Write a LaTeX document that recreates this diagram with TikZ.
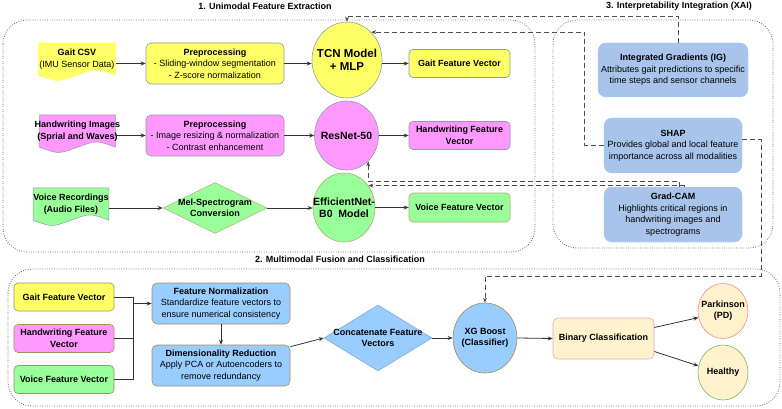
\documentclass[tikz,border=0pt]{standalone}
\usepackage{fontspec}
\setmainfont{Liberation Sans}
\usetikzlibrary{arrows.meta,calc,shapes.geometric,backgrounds}
\definecolor{PDInk}{HTML}{333333}
\definecolor{PDDash}{HTML}{4D4D4D}
\definecolor{PDDots}{HTML}{666666}
\definecolor{PDEdge}{HTML}{8E9AAF}
\definecolor{PDYellow}{HTML}{FFFF66}
\definecolor{PDPink}{HTML}{FF99FF}
\definecolor{PDGreen}{HTML}{99FF99}
\definecolor{PDFuse}{HTML}{99CCFF}
\definecolor{PDXai}{HTML}{A9C4EB}
\definecolor{PDOlive}{HTML}{A0905C}
\definecolor{PDCream}{HTML}{FFF2CC}
\definecolor{PDRose}{HTML}{D6B0B8}
\definecolor{PDRed}{HTML}{EA8F8F}
\definecolor{PDHealthy}{HTML}{82B366}
\newcommand{\ctrline}[1]{\makebox[0pt]{#1}}
\newcommand{\docwave}[3]{%
  \path[fill=#2,draw=#3,line width=0.5pt]
    (#1.north west) -- (#1.north east) -- (#1.south east)
    .. controls ($(#1.south east)!0.25!(#1.south west)+(0,-7)$) .. (#1.south)
    .. controls ($(#1.south west)!0.25!(#1.south east)+(0,7)$) .. (#1.south west)
    -- cycle;}

\begin{document}
\begin{tikzpicture}[x=1pt,y=-1pt,
    >={Stealth[length=5pt,width=4pt]},
    flow/.style={->,draw=PDInk,line width=0.8pt},
    xailink/.style={->,draw=PDDash,line width=0.8pt,dash pattern=on 5pt off 3pt},
    region/.style={draw=PDDots,line width=0.8pt,dash pattern=on 0.8pt off 1.6pt,rounded corners=24pt},
    sectitle/.style={font=\bfseries\fontsize{9}{11}\selectfont,inner sep=0pt},
    boxtext/.style={align=center,font=\fontsize{9}{11.5}\selectfont,inner sep=1pt},
    docnode/.style={boxtext,minimum width=75pt,minimum height=32pt},
    procbox/.style={boxtext,draw=PDEdge,line width=0.6pt,rounded corners=5pt,
      minimum width=138pt,minimum height=41pt},
    featbox/.style={boxtext,draw=PDEdge,line width=0.6pt,rounded corners=4pt,
      minimum width=101pt,minimum height=28pt,font=\bfseries\fontsize{9}{11.5}\selectfont},
    model/.style={ellipse,draw=PDEdge,line width=0.6pt,inner sep=0pt,align=center,
      font=\bfseries\fontsize{10.5}{12.5}\selectfont},
    xaibox/.style={boxtext,fill=PDXai,draw=PDXai,rounded corners=8pt,
      minimum width=138pt,minimum height=55pt},
    fusebox/.style={procbox,fill=PDFuse,draw=PDOlive},
    outcome/.style={ellipse,fill=PDCream,line width=0.6pt,inner sep=0pt,
      minimum width=50pt,minimum height=55pt,align=center,font=\bfseries\fontsize{9}{11}\selectfont},
    decision/.style={diamond,inner sep=0pt,line width=0.6pt,align=center,
      font=\bfseries\fontsize{9}{11.5}\selectfont}
  ]
  \useasboundingbox (0,0) rectangle (782,409);

  % stage frames
  \draw[region] (3,20) rectangle (535,252);
  \draw[region] (553,20) rectangle (773,248);
  \draw[region] (8,269) rectangle (780,406);
  \node[sectitle] (title1) at (265,6) {1. Unimodal Feature Extraction};
  \node[sectitle] (title3) at (679,6) {3. Interpretability Integration (XAI)};
  \node[sectitle] (title2) at (340,259) {2. Multimodal Fusion and Classification};

  % unimodal branches
  \node[docnode] (gaitcsv) at (77,59) {\textbf{Gait CSV}\\(IMU Sensor Data)};
  \node[procbox,fill=PDYellow] (gaitprep) at (215,63.5)
    {\textbf{Preprocessing}\\- Sliding-window segmentation\\- Z-score normalization};
  \node[model,fill=PDYellow,minimum width=70pt,minimum height=76pt,
    font=\bfseries\fontsize{11.5}{13.5}\selectfont] (tcn) at (347,60)
    {\ctrline{TCN Model}\\\ctrline{+ MLP}};
  \node[featbox,fill=PDYellow] (gaitvec) at (459.5,63.5) {Gait Feature Vector};

  \node[docnode,inner xsep=-5pt] (hwimg) at (77.5,131)
    {\textbf{Handwriting Images}\\\textbf{(Sprial and Waves)}};
  \node[procbox,fill=PDPink] (hwprep) at (215,135.5)
    {\textbf{Preprocessing}\\- Image resizing \& normalization\\- Contrast enhancement};
  \node[model,fill=PDPink,minimum width=64pt,minimum height=69pt] (resnet) at (346.5,135.5)
    {\ctrline{ResNet-50}};
  \node[featbox,fill=PDPink] (hwvec) at (459.5,135.5) {Handwriting Feature\\Vector};

  \node[docnode,inner xsep=0pt] (voicerec) at (71,204)
    {\textbf{Voice Recordings}\\\textbf{(Audio Files)}};
  \node[decision,fill=PDGreen,draw=PDOlive!70,minimum width=104pt,minimum height=51pt]
    (melspec) at (215,208) {\ctrline{Mel-Spectrogram}\\\ctrline{Conversion}};
  \node[model,fill=PDGreen,draw=PDOlive!80,minimum width=62pt,minimum height=69pt]
    (effnet) at (344,207.5) {\ctrline{EfficientNet-}\\\ctrline{B0\ \ Model}};
  \node[featbox,fill=PDGreen,draw=PDOlive!80,minimum height=29pt] (voicevec) at (459.5,207.5)
    {Voice Feature Vector};

  \begin{scope}[on background layer]
    \path[fill=white] (0,0) rectangle (782,409);
    \docwave{gaitcsv}{PDYellow}{PDYellow}
    \docwave{hwimg}{PDPink}{PDEdge}
    \docwave{voicerec}{PDGreen}{PDEdge}
  \end{scope}

  \draw[flow] (gaitcsv.east |- gaitprep.west) -- (gaitprep.west);
  \draw[flow] (gaitprep.east) -- (gaitprep.east -| tcn.west);
  \draw[flow] (tcn.east |- gaitvec.west) -- (gaitvec.west);
  \draw[flow] (hwimg.east |- hwprep.west) -- (hwprep.west);
  \draw[flow] (hwprep.east) -- (resnet.west);
  \draw[flow] (resnet.east) -- (hwvec.west);
  \draw[flow] (voicerec.east |- melspec.west) -- (melspec.west);
  \draw[flow] (melspec.east) -- (effnet.west |- melspec.east);
  \draw[flow] (effnet.east) -- (voicevec.west);

  % explainers
  \node[xaibox,minimum width=150pt,minimum height=54pt] (ig) at (673,70)
    {\textbf{Integrated Gradients (IG)}\\Attributes gait predictions to specific\\time steps and sensor channels};
  \node[xaibox] (shap) at (673,145.5)
    {\textbf{SHAP}\\Provides global and local feature\\importance across all modalities};
  \node[xaibox] (gradcam) at (673,214.5)
    {\textbf{Grad-CAM}\\Highlights critical regions in\\handwriting images and\\spectrograms};

  % fusion and classification
  \node[featbox,fill=PDYellow,draw=PDOlive,minimum width=100pt] (gaitvec2) at (64,297)
    {Gait Feature Vector};
  \node[featbox,fill=PDPink,draw=PDOlive,minimum width=100pt] (hwvec2) at (64,338.5)
    {Handwriting Feature\\Vector};
  \node[featbox,fill=PDGreen,draw=PDOlive,minimum width=100pt] (voicevec2) at (64,379.5)
    {Voice Feature Vector};
  \node[fusebox] (norm) at (221,303.5)
    {\textbf{Feature Normalization}\\Standardize feature vectors to\\ensure numerical consistency};
  \node[fusebox] (dimred) at (221,365.5)
    {\textbf{Dimensionality Reduction}\\Apply PCA or Autoencoders to\\remove redundancy};
  \node[decision,fill=PDFuse,draw=PDFuse!85!black,minimum width=108pt,minimum height=66pt]
    (concat) at (378,338) {\ctrline{Concatenate Feature}\\\ctrline{Vectors}};
  \node[model,fill=PDFuse,draw=PDOlive,minimum width=64pt,minimum height=70pt,
    font=\bfseries\fontsize{9}{11.5}\selectfont] (xgb) at (485,338)
    {\ctrline{XG Boost}\\\ctrline{(Classifier)}};
  \node[boxtext,fill=PDCream,draw=PDRose,line width=0.6pt,rounded corners=5pt,
    minimum width=101pt,minimum height=41pt,font=\bfseries\fontsize{9}{11.5}\selectfont]
    (binary) at (603.5,338.5) {Binary Classification};
  \node[outcome,draw=PDRed] (parkinson) at (723,311) {\ctrline{Parkinson}\\\ctrline{(PD)}};
  \node[outcome,draw=PDHealthy] (healthy) at (723,372.5) {\ctrline{Healthy}};

  \coordinate (merge) at (133,303.5);
  \draw[flow,-] (gaitvec2.east) -| (merge);
  \draw[flow,-] (hwvec2.east) -| (merge);
  \draw[flow,-] (voicevec2.east) -| (merge);
  \draw[flow] (merge) -- (norm.west);
  \draw[flow] (norm) -- (dimred);
  \draw[flow] ([yshift=-2pt]dimred.north east) -- (concat.west);
  \draw[flow] (concat.east) -- (xgb.west);
  \draw[flow] (xgb.east) -- (binary.west);
  \draw[flow] ([yshift=11pt]binary.east) -- (parkinson.195);
  \draw[flow] ([yshift=-13pt]binary.east) -- (healthy.165);

  % dashed explanation links
  \coordinate (xaitop) at (0,16);
  \coordinate (igport) at ([xshift=5pt]ig.north);
  \draw[xailink] (igport) -- (igport |- xaitop) -| (tcn.north);
  \draw[xailink] (shap.west) -- ++(-19,0) |- (tcn.49);
  \coordinate (gcport1) at ([xshift=6pt]gradcam.north);
  \coordinate (gcport2) at ([xshift=11pt]gradcam.north);
  \coordinate (gcrail) at (0,181);
  \draw[xailink] (gcport1) |- (resnet.-50 |- gcrail) -- (resnet.-50);
  \draw[xailink] (gcport2) |- (effnet.42);
  \coordinate (shapport) at ([yshift=6pt]shap.east);
  \coordinate (xgbrail) at (761,276);
  \draw[xailink] (shapport) -| (xgbrail) -| (xgb.north);
\end{tikzpicture}
\end{document}
